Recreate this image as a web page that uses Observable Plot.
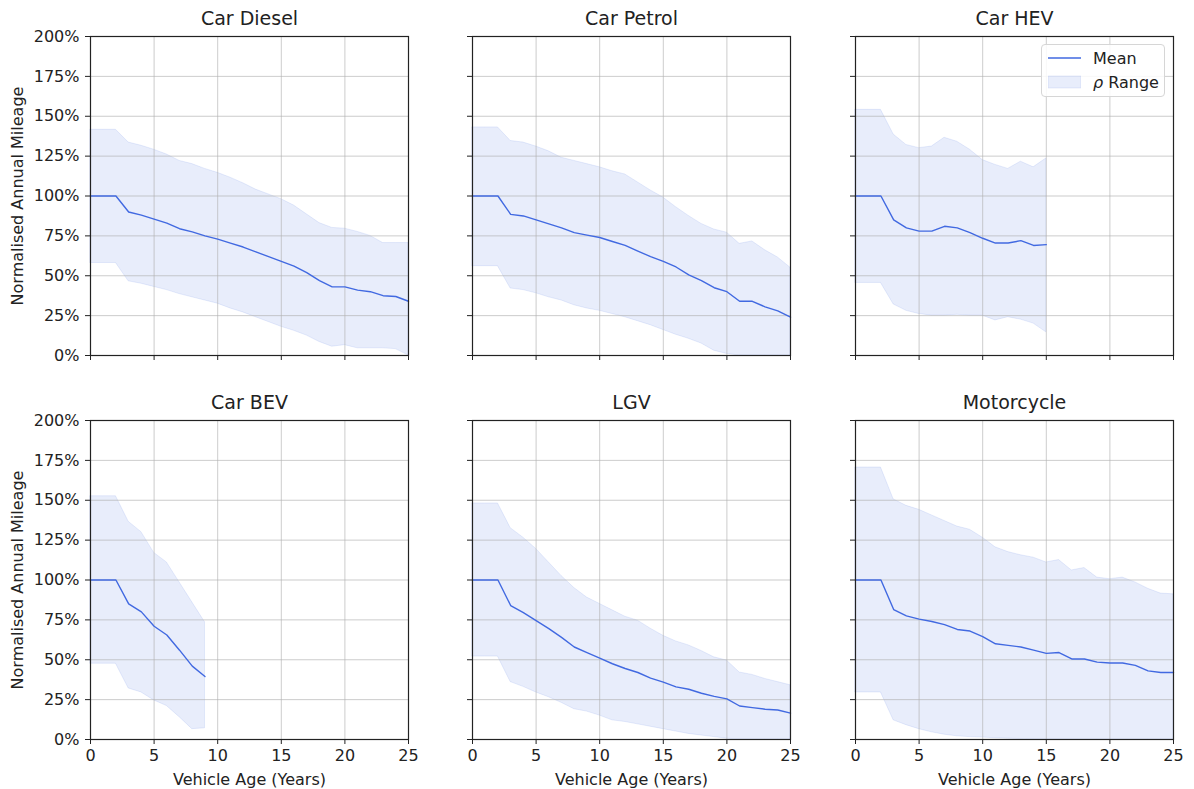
<!DOCTYPE html>
<html>
<head>
<meta charset="utf-8">
<script src="https://cdn.jsdelivr.net/npm/d3@7"></script>
<script src="https://cdn.jsdelivr.net/npm/@observablehq/plot@0.6"></script>
<style>
  html, body { margin: 0; padding: 0; background: #fff; }
  #fig { position: relative; width: 1194px; height: 789px; background: #fff; font-family: "DejaVu Sans", sans-serif; color: #222; }
  #fig svg { position: absolute; }
  .legend {
    position: absolute; left: 1041px; top: 44px; width: 122px; height: 51px;
    border: 1px solid #d6d6d6; border-radius: 4px; background: rgba(255,255,255,0.85);
    font-size: 16px; color: #222; z-index: 5;
  }
  .legend .row { position: absolute; left: 0; height: 20px; display: flex; align-items: center; }
  .legend .lab { position: absolute; left: 51px; white-space: nowrap; }
</style>
</head>
<body>
<div id="fig"></div>
<script>
// Vehicle age (years)
const ages = [0, 1, 2, 3, 4, 5, 6, 7, 8, 9, 10, 11, 12, 13, 14, 15, 16, 17, 18, 19, 20, 21, 22, 23, 24, 25];

// Normalised annual mileage (%): mean and the ρ range (low / high) per vehicle type
const dieselMean = [100, 100, 100, 90, 88, 85.5, 83, 79.5, 77.5, 75, 73, 70.5, 68, 65, 62, 59, 56, 52, 47, 43, 43, 41, 40, 37.5, 37, 34];
const dieselHigh = [141.5, 141.5, 141.5, 133.5, 131.5, 129, 126, 122, 120, 117, 114.5, 111.5, 108, 104, 101, 98, 94, 88.5, 83, 80, 79.5, 77.5, 75, 70.5, 70.5, 70.5];
const dieselLow  = [58, 58, 58, 46.5, 45, 43, 41, 38.5, 36.5, 34.5, 32.5, 29.5, 27, 24, 21, 18, 15.5, 12.5, 8.5, 5.5, 6.5, 4.5, 4.5, 4.5, 4, 0];

const petrolMean = [100, 100, 100, 88.5, 87.5, 85, 82.5, 80, 77, 75.5, 74, 71.5, 69, 65.5, 62, 59, 55.5, 50.5, 47, 42.5, 40, 34, 34, 30.5, 28, 24];
const petrolHigh = [143, 143, 143, 134.5, 133.5, 131, 128, 124, 122, 120, 118, 115.5, 113.5, 108.5, 103.5, 99, 93, 87.5, 82.5, 79, 77, 70, 71.5, 66, 61.5, 55];
const petrolLow  = [56, 56, 56, 42, 41, 39, 36.5, 34.5, 31.5, 29.5, 28, 26, 24, 21.5, 19, 16, 13, 10.5, 7.5, 3, 1, 0, 0, 0, 0, 0];

const hevMean = [100, 100, 100, 85, 80, 78, 78, 81, 80, 77, 73.5, 70.5, 70.5, 72, 69, 69.5];
const hevHigh = [154, 154, 154, 138.5, 132, 130, 131, 136.5, 134, 129, 122.5, 119.5, 117, 121.5, 118, 123.5];
const hevLow  = [45.5, 45.5, 45.5, 32, 28, 26, 25, 25, 25.5, 25, 25, 22, 24, 22.5, 20, 14.5];

const bevMean = [100, 100, 100, 85, 80, 71, 65.5, 56, 46, 39.5];
const bevHigh = [152.5, 152.5, 152.5, 136.5, 130, 117, 111, 98.5, 86, 73.5];
const bevLow  = [47.5, 47.5, 47.5, 32, 29.5, 24.5, 21, 14, 6.5, 7];

const lgvMean = [100, 100, 100, 84, 79.5, 74.5, 69.5, 64, 58, 54.5, 51, 47.5, 44.5, 42, 38.5, 36, 33, 31.5, 29, 27, 25.5, 21, 20, 19, 18.5, 16.5];
const lgvHigh = [148, 148, 148, 132.5, 126.5, 119.5, 111, 102.5, 95, 89, 85, 81, 77, 74.5, 69.5, 65, 61.5, 59, 55.5, 51.5, 49.5, 42, 40.5, 38, 36, 34];
const lgvLow  = [52, 52, 52, 36, 33, 29.5, 26.5, 23, 19, 17.5, 15, 12, 11, 9.5, 8, 6.5, 5, 3.5, 2.5, 1.5, 0.5, 0, 0, 0, 0, 0];

const motoMean = [100, 100, 100, 81.5, 77.5, 75.5, 74, 72, 69, 68, 64.5, 60, 59, 58, 56, 54, 54.5, 50.5, 50.5, 48.5, 48, 48, 46.5, 43, 42, 42];
const motoHigh = [170.5, 170.5, 170.5, 150.5, 146.5, 144, 140.5, 137, 133.5, 131.5, 126.5, 120.5, 117.5, 115.5, 114, 111, 112.5, 106, 107.5, 101.5, 100.5, 101.5, 98.5, 94.5, 91.5, 91];
const motoLow  = [29.5, 29.5, 29.5, 12, 9, 6.5, 4.5, 3, 2, 1.5, 1.2, 0.8, 0.5, 0.3, 0, 0, 0, 0, 0, 0, 0, 0, 0, 0, 0, 0];

// Panel titles and axis text
const titles = ["Car Diesel", "Car Petrol", "Car HEV", "Car BEV", "LGV", "Motorcycle"];
const xTicks = [0, 5, 10, 15, 20, 25];
const yTicks = [0, 25, 50, 75, 100, 125, 150, 175, 200];
const xLabel = "Vehicle Age (Years)";
const yLabel = "Normalised Annual Mileage";

const series = [
  [dieselMean, dieselHigh, dieselLow],
  [petrolMean, petrolHigh, petrolLow],
  [hevMean, hevHigh, hevLow],
  [bevMean, bevHigh, bevLow],
  [lgvMean, lgvHigh, lgvLow],
  [motoMean, motoHigh, motoLow]
];

function toRows([mean, high, low]) {
  return mean.map((m, i) => ({age: ages[i], mean: m, high: high[i], low: low[i]}));
}

const fig = document.getElementById("fig");
const blue = "royalblue";
const ink = "#222";
const frameW = 318, frameH = 319;
const colFrameLeft = [90, 472, 855];
const rowFrameTop = [36, 420];

titles.forEach((title, k) => {
  const col = k % 3, row = Math.floor(k / 3);
  const left = col === 0, bottom = row === 1;
  const ml = left ? 90 : 20, mr = 10, mt = 30, mb = bottom ? 50 : 20;
  const data = toRows(series[k]);

  const marks = [
    Plot.areaY(data, {x: "age", y1: "low", y2: "high", fill: blue, fillOpacity: 0.12, stroke: blue, strokeOpacity: 0.12, strokeWidth: 1}),
    Plot.gridX(xTicks, {stroke: "#b0b0b0", strokeOpacity: 0.65, strokeWidth: 1}),
    Plot.gridY(yTicks, {stroke: "#b0b0b0", strokeOpacity: 0.65, strokeWidth: 1}),
    Plot.lineY(data, {x: "age", y: "mean", stroke: blue, strokeWidth: 1.4}),
    Plot.frame({stroke: ink, strokeWidth: 1.2}),
    Plot.axisX(xTicks, {anchor: "bottom", tickSize: 5, tickPadding: 5, stroke: ink, fill: ink,
      tickFormat: bottom ? (d => String(d)) : (() => ""), label: null}),
    Plot.axisY(yTicks, {anchor: "left", tickSize: 5, tickPadding: 6, stroke: ink, fill: ink,
      tickFormat: left ? (d => d + "%") : (() => ""), label: null}),
    Plot.text([title], {text: d => d, frameAnchor: "top", lineAnchor: "middle", textAnchor: "middle", dy: -18, fontSize: 19, fill: ink})
  ];
  if (bottom) marks.push(Plot.text([xLabel], {text: d => d, frameAnchor: "bottom", lineAnchor: "middle", textAnchor: "middle", dy: 40, fontSize: 16, fill: ink}));
  if (left) marks.push(Plot.text([yLabel], {text: d => d, frameAnchor: "left", lineAnchor: "middle", textAnchor: "middle", dx: -73, rotate: -90, fontSize: 16, fill: ink}));

  const svg = Plot.plot({
    width: ml + frameW + mr,
    height: mt + frameH + mb,
    marginLeft: ml, marginRight: mr, marginTop: mt, marginBottom: mb,
    style: {background: "transparent", fontFamily: "DejaVu Sans", fontSize: "16px", color: ink, overflow: "visible"},
    x: {domain: [0, 25]},
    y: {domain: [0, 200]},
    marks
  });
  svg.style.left = (colFrameLeft[col] - ml) + "px";
  svg.style.top = (rowFrameTop[row] - mt) + "px";
  fig.appendChild(svg);
});

// Legend for the Car HEV panel
const legend = document.createElement("div");
legend.className = "legend";
legend.innerHTML = `
  <div class="row" style="top:3px;width:100%">
    <svg width="33" height="20" style="position:absolute;left:6px;top:0"><line x1="0" x2="33" y1="10" y2="10" stroke="${blue}" stroke-width="1.4"/></svg>
    <span class="lab">Mean</span>
  </div>
  <div class="row" style="top:27px;width:100%">
    <svg width="33" height="20" style="position:absolute;left:6px;top:0"><rect x="0" y="4" width="33" height="12" fill="${blue}" fill-opacity="0.12" stroke="${blue}" stroke-opacity="0.12"/></svg>
    <span class="lab"><i>ρ</i> Range</span>
  </div>`;
fig.appendChild(legend);
</script>
</body>
</html>
